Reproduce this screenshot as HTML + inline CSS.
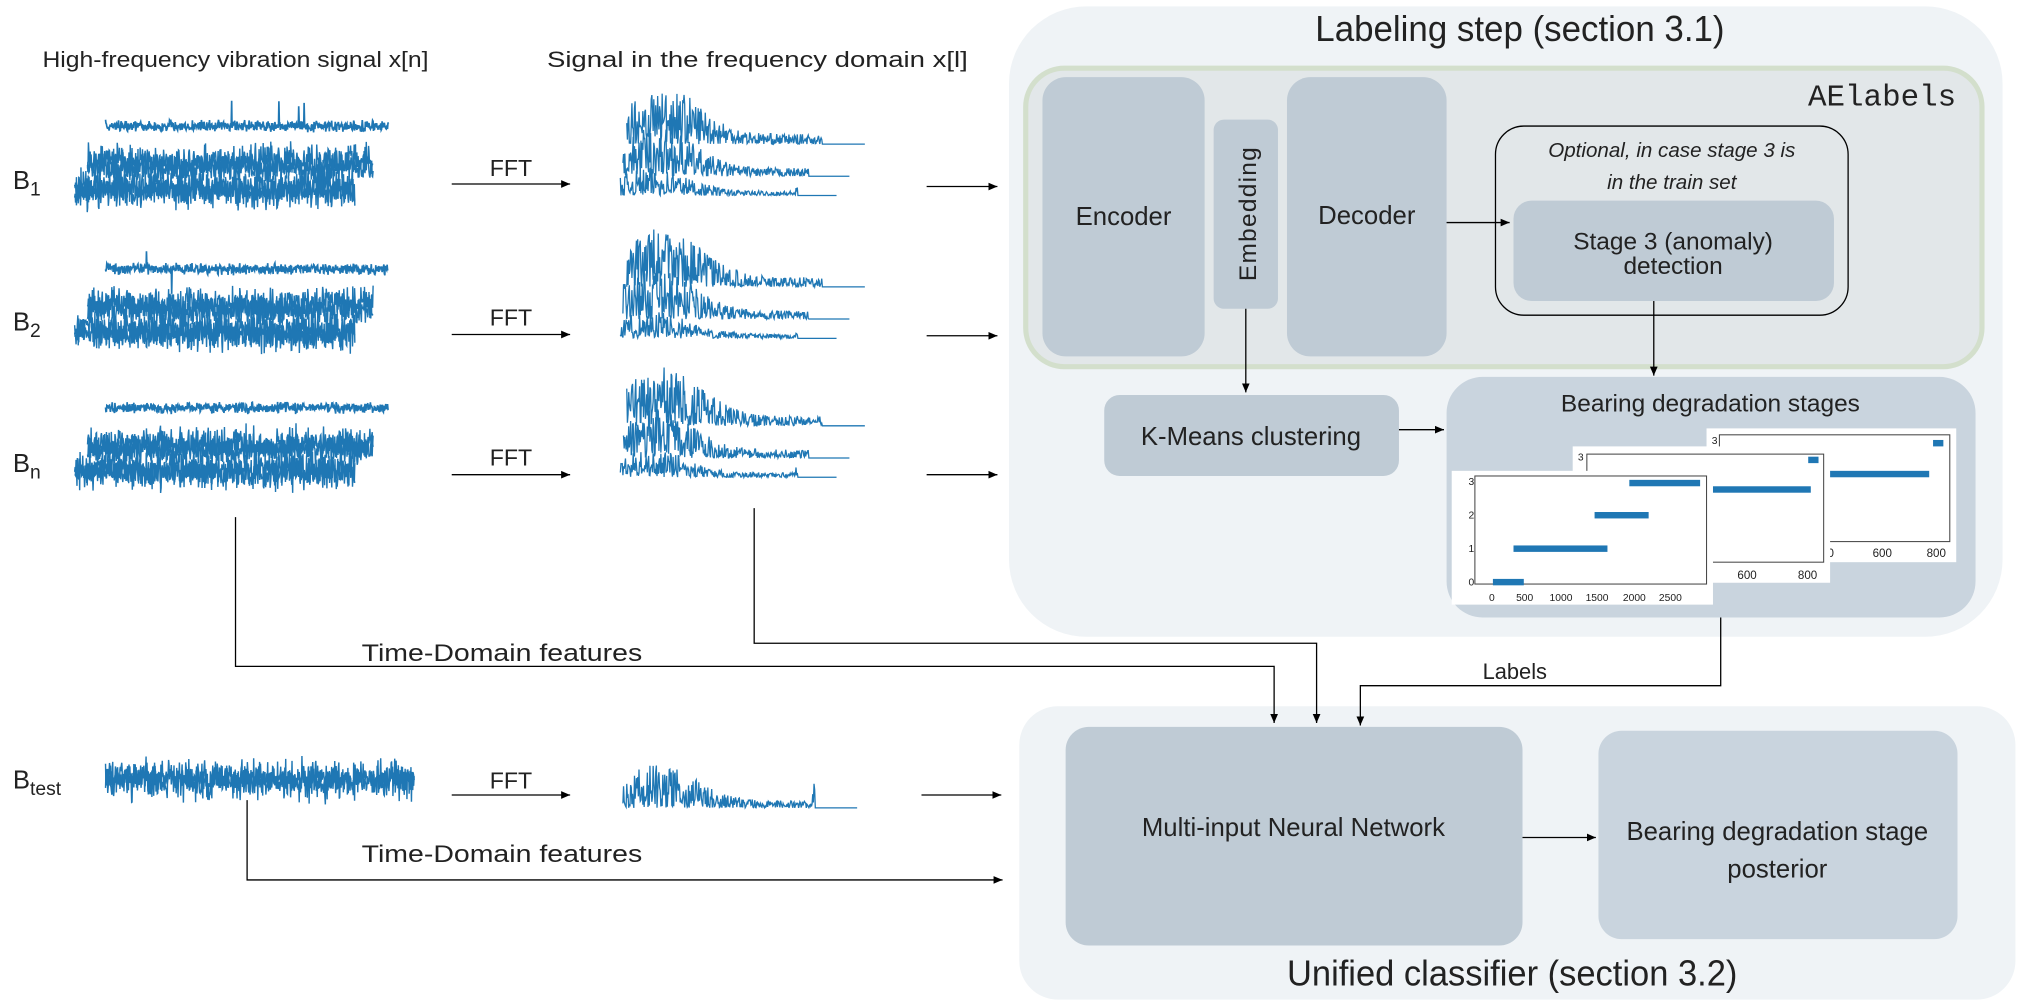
<!DOCTYPE html>
<html><head><meta charset="utf-8"><style>
html,body{margin:0;padding:0;background:#fff}
svg{display:block}
text{font-family:"Liberation Sans Narrow","Liberation Sans",sans-serif;fill:#222}
</style></head><body>
<svg id="s" width="2018" height="1006" viewBox="0 0 1568 782" preserveAspectRatio="none" xmlns="http://www.w3.org/2000/svg">
<defs><marker id="a" markerWidth="8" markerHeight="8" refX="7" refY="4" orient="auto" markerUnits="userSpaceOnUse"><path d="M0,1 L7,4 L0,7 Z" fill="#000"/></marker></defs>
<rect x="784" y="5" width="772" height="490" rx="60" fill="#eff3f6"/>
<text x="1181" y="32" font-size="28" text-anchor="middle" textLength="318" lengthAdjust="spacingAndGlyphs">Labeling step (section 3.1)</text>
<rect x="797" y="53" width="743" height="232" rx="30" fill="#e2e7e9" stroke="#d3dfcc" stroke-width="4"/>
<text x="1520" y="82" font-size="24" text-anchor="end" style="font-family:'Liberation Mono',monospace" fill="#555">AElabels</text>
<rect x="810" y="60" width="126" height="217" rx="18" fill="#bfcbd5"/>
<text x="873" y="175" font-size="20" text-anchor="middle">Encoder</text>
<rect x="943" y="93" width="50" height="147" rx="8" fill="#bfcbd5"/>
<text transform="translate(976,166) rotate(-90)" font-size="19" text-anchor="middle" style="font-family:'Liberation Sans',sans-serif;letter-spacing:1px">Embedding</text>
<rect x="1000" y="60" width="124" height="217" rx="18" fill="#bfcbd5"/>
<text x="1062" y="174" font-size="20" text-anchor="middle">Decoder</text>
<rect x="1162" y="98" width="274" height="147" rx="22" fill="none" stroke="#000" stroke-width="1"/>
<text x="1299" y="122" font-size="16" font-style="italic" text-anchor="middle">Optional, in case stage 3 is</text>
<text x="1299" y="147" font-size="16" font-style="italic" text-anchor="middle">in the train set</text>
<rect x="1176" y="156" width="249" height="78" rx="14" fill="#bfcbd5"/>
<text x="1300" y="194" font-size="19" text-anchor="middle">Stage 3 (anomaly)</text>
<text x="1300" y="213" font-size="19" text-anchor="middle">detection</text>
<line x1="1124" y1="173" x2="1173" y2="173" stroke="#000" marker-end="url(#a)"/>
<line x1="968" y1="240" x2="968" y2="305" stroke="#000" marker-end="url(#a)"/>
<line x1="1285" y1="234" x2="1285" y2="292" stroke="#000" marker-end="url(#a)"/>
<rect x="858" y="307" width="229" height="63" rx="12" fill="#bfcbd5"/>
<text x="972" y="346" font-size="20" text-anchor="middle">K-Means clustering</text>
<line x1="1087" y1="334" x2="1122" y2="334" stroke="#000" marker-end="url(#a)"/>
<rect x="1124" y="293" width="411" height="187" rx="28" fill="#c9d4de"/>
<text x="1329" y="320" font-size="19" text-anchor="middle">Bearing degradation stages</text>
<g font-size="9" style="font-family:'Liberation Sans',sans-serif">
<rect x="1326" y="333" width="194" height="104" fill="#fff"/>
<rect x="1336" y="338" width="179" height="83" fill="none" stroke="#444" stroke-width="0.8"/>
<text x="1330" y="345" font-size="8">3</text>
<rect x="1502" y="342" width="8" height="5" fill="#1f77b4"/>
<rect x="1402" y="366" width="97" height="5" fill="#1f77b4"/>
<rect x="1402" y="391" width="15" height="5" fill="#1f77b4"/>
<text x="1410" y="433" font-size="9">400</text><text x="1455" y="433" font-size="9">600</text><text x="1497" y="433" font-size="9">800</text>
<rect x="1222" y="347" width="200" height="106" fill="#fff"/>
<rect x="1233" y="353" width="184" height="84" fill="none" stroke="#444" stroke-width="0.8"/>
<text x="1226" y="358" font-size="8">3</text>
<rect x="1405" y="355" width="8" height="5" fill="#1f77b4"/>
<rect x="1313" y="378" width="94" height="5" fill="#1f77b4"/>
<text x="1350" y="450" font-size="9">600</text><text x="1397" y="450" font-size="9">800</text>
<rect x="1128" y="366" width="203" height="104" fill="#fff"/>
<rect x="1146" y="370" width="180" height="84" fill="none" stroke="#444" stroke-width="0.8"/>
<text x="1141" y="377" font-size="8">3</text><text x="1141" y="403" font-size="8">2</text><text x="1141" y="429" font-size="8">1</text><text x="1141" y="455" font-size="8">0</text>
<rect x="1266" y="373" width="55" height="5" fill="#1f77b4"/>
<rect x="1239" y="398" width="42" height="5" fill="#1f77b4"/>
<rect x="1176" y="424" width="73" height="5" fill="#1f77b4"/>
<rect x="1160" y="450" width="24" height="5" fill="#1f77b4"/>
<text x="1157" y="467" font-size="8">0</text><text x="1178" y="467" font-size="8">500</text><text x="1204" y="467" font-size="8">1000</text><text x="1232" y="467" font-size="8">1500</text><text x="1261" y="467" font-size="8">2000</text><text x="1289" y="467" font-size="8">2500</text>
</g>
<rect x="792" y="549" width="774" height="228" rx="30" fill="#eff3f6"/>
<rect x="828" y="565" width="355" height="170" rx="18" fill="#bfcbd5"/>
<text x="1005" y="650" font-size="20" text-anchor="middle" fill="#444">Multi-input Neural Network</text>
<rect x="1242" y="568" width="279" height="162" rx="18" fill="#c9d4de"/>
<text x="1381" y="653" font-size="20" text-anchor="middle" fill="#444">Bearing degradation stage</text>
<text x="1381" y="682" font-size="20" text-anchor="middle" fill="#444">posterior</text>
<line x1="1183" y1="651" x2="1240" y2="651" stroke="#000" marker-end="url(#a)"/>
<text x="1175" y="766" font-size="28" text-anchor="middle" textLength="350" lengthAdjust="spacingAndGlyphs">Unified classifier (section 3.2)</text>
<text x="33" y="52" font-size="17" textLength="300" lengthAdjust="spacingAndGlyphs">High-frequency vibration signal x[n]</text>
<text x="425" y="52" font-size="17" textLength="327" lengthAdjust="spacingAndGlyphs">Signal in the frequency domain x[l]</text>
<g font-size="20"><text x="10" y="147">B<tspan font-size="15" dy="5">1</tspan></text>
<text x="10" y="257">B<tspan font-size="15" dy="5">2</tspan></text>
<text x="10" y="367">B<tspan font-size="15" dy="5">n</tspan></text>
<text x="10" y="613">B<tspan font-size="15" dy="5">test</tspan></text></g>
<g font-size="18" text-anchor="middle"><text x="397" y="137">FFT</text><text x="397" y="253">FFT</text><text x="397" y="362">FFT</text><text x="397" y="613">FFT</text></g>
<g stroke="#000" fill="none" marker-end="url(#a)">
<line x1="351" y1="143" x2="443" y2="143"/><line x1="351" y1="260" x2="443" y2="260"/><line x1="351" y1="369" x2="443" y2="369"/><line x1="351" y1="618" x2="443" y2="618"/>
<line x1="720" y1="145" x2="775" y2="145"/><line x1="720" y1="261" x2="775" y2="261"/><line x1="720" y1="369" x2="775" y2="369"/><line x1="716" y1="618" x2="778" y2="618"/>
<polyline points="183,402 183,518 990,518 990,562"/>
<polyline points="586,395 586,500 1023,500 1023,562"/>
<polyline points="1337,480 1337,533 1057,533 1057,564"/>
<polyline points="192,622 192,684 779,684"/>
</g>
<text x="390" y="514" font-size="19" text-anchor="middle" textLength="218" lengthAdjust="spacingAndGlyphs">Time-Domain features</text>
<text x="390" y="670" font-size="19" text-anchor="middle" textLength="218" lengthAdjust="spacingAndGlyphs">Time-Domain features</text>
<text x="1177" y="528" font-size="17" text-anchor="middle">Labels</text>
<g id="sig" fill="none" stroke="#1f77b4" stroke-width="1"></g>
</svg>
<script>
var seed=7;function r(){seed=(seed*16807)%2147483647;return seed/2147483647;}
var g=document.getElementById('sig'),NS='http://www.w3.org/2000/svg';
function pl(pts,w){var p=document.createElementNS(NS,'polyline');p.setAttribute('points',pts.join(' '));if(w)p.setAttribute('stroke-width',w);g.appendChild(p);}
function noise(x0,x1,cy,amp,spikes,w){var pts=[];for(var x=x0;x<=x1;x+=0.35){var a=(r()-0.5)*2*amp*(0.4+r()*0.9);if(spikes&&r()<0.004)a=(r()<0.5?-1:1)*(12+r()*8);pts.push(x.toFixed(1)+','+(cy+a).toFixed(1));}pl(pts,w||1.1);}
function fft(x0,x1,base,h,pk){var pts=[];for(var x=x0;x<=x1;x+=0.5){var t=(x-x0)/(x1-x0);var env;if(t<0.82){env=h*Math.exp(-((t-0.15)*(t-0.15))/0.05)+h*0.2;if(pk&&Math.abs(t-pk)<0.04)env+=h*0.6;}else env=0;var v=env*Math.pow(r(),1.3);pts.push(x.toFixed(1)+','+(base-v).toFixed(1));}pl(pts,1);}
[0,111,219].forEach(function(o){
noise(82,302,98+o,4,true,1.3);noise(68,290,126+o,13);noise(68,290,130+o,10);noise(58,276,146+o,15);noise(58,276,148+o,10);
fft(487,672,112+o,38);fft(484,660,137+o,32,0.9);fft(482,650,152+o,18,0.85);
});
noise(82,322,606,15);noise(82,322,606,9);fft(484,666,628,28,0.85);
</script>
</body></html>
